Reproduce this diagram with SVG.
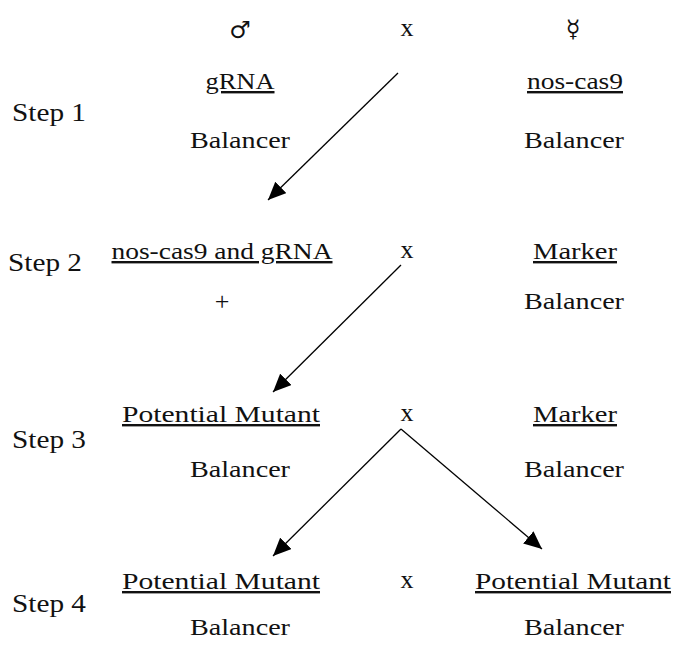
<svg xmlns="http://www.w3.org/2000/svg" width="675" height="646" viewBox="0 0 675 646">
<defs>
<marker id="ah" markerUnits="userSpaceOnUse" markerWidth="20" markerHeight="16" refX="18" refY="8" orient="auto">
<path d="M0,0 L18,8 L0,16 Z" fill="#000"/>
</marker>
<style>
.t{font-family:"Liberation Serif","DejaVu Serif",serif;font-size:24px;fill:#111;text-anchor:middle}
.x{font-size:26px}
.u{text-decoration:underline}
.s{font-family:"Liberation Serif","DejaVu Serif",serif;font-size:26px;fill:#111}
.sym{font-family:"DejaVu Sans",sans-serif;font-size:24px;fill:#111;text-anchor:middle}
.c{stroke:#000;stroke-width:1.3;fill:none;marker-end:url(#ah)}
</style>
</defs>
<rect width="675" height="646" fill="#fff"/>
<g id="header">
<text class="sym" x="240" y="38">♂</text>
<text class="t x" x="407" y="36">x</text>
<text class="sym" x="573" y="37">☿</text>
</g>
<g id="step1">
<text class="s" x="12" y="121" textLength="74" lengthAdjust="spacingAndGlyphs">Step 1</text>
<text class="t u" x="240" y="89" textLength="69" lengthAdjust="spacingAndGlyphs">gRNA</text>
<text class="t u" x="575" y="89" textLength="96" lengthAdjust="spacingAndGlyphs">nos-cas9</text>
<text class="t" x="240" y="148" textLength="100" lengthAdjust="spacingAndGlyphs">Balancer</text>
<text class="t" x="574" y="148" textLength="100" lengthAdjust="spacingAndGlyphs">Balancer</text>
</g>
<g id="step2">
<text class="s" x="8" y="271" textLength="74" lengthAdjust="spacingAndGlyphs">Step 2</text>
<text class="t u" x="222" y="259" textLength="221" lengthAdjust="spacingAndGlyphs">nos-cas9 and gRNA</text>
<text class="t x" x="407" y="258">x</text>
<text class="t u" x="575" y="259" textLength="84" lengthAdjust="spacingAndGlyphs">Marker</text>
<text class="t x" x="222" y="310">+</text>
<text class="t" x="574" y="309" textLength="100" lengthAdjust="spacingAndGlyphs">Balancer</text>
</g>
<g id="step3">
<text class="s" x="12" y="448" textLength="74" lengthAdjust="spacingAndGlyphs">Step 3</text>
<text class="t u" x="221" y="422" textLength="198" lengthAdjust="spacingAndGlyphs">Potential Mutant</text>
<text class="t x" x="407" y="421">x</text>
<text class="t u" x="575" y="422" textLength="84" lengthAdjust="spacingAndGlyphs">Marker</text>
<text class="t" x="240" y="477" textLength="100" lengthAdjust="spacingAndGlyphs">Balancer</text>
<text class="t" x="574" y="477" textLength="100" lengthAdjust="spacingAndGlyphs">Balancer</text>
</g>
<g id="step4">
<text class="s" x="12" y="612" textLength="74" lengthAdjust="spacingAndGlyphs">Step 4</text>
<text class="t u" x="221" y="589" textLength="198" lengthAdjust="spacingAndGlyphs">Potential Mutant</text>
<text class="t x" x="407" y="588">x</text>
<text class="t u" x="573" y="589" textLength="196" lengthAdjust="spacingAndGlyphs">Potential Mutant</text>
<text class="t" x="240" y="635" textLength="100" lengthAdjust="spacingAndGlyphs">Balancer</text>
<text class="t" x="574" y="635" textLength="100" lengthAdjust="spacingAndGlyphs">Balancer</text>
</g>
<g id="connectors">
<line class="c" x1="398" y1="73" x2="268" y2="200"/>
<line class="c" x1="401" y1="265" x2="273" y2="392"/>
<line class="c" x1="401" y1="429" x2="273" y2="556"/>
<line class="c" x1="401" y1="429" x2="542" y2="549"/>
</g>
</svg>
